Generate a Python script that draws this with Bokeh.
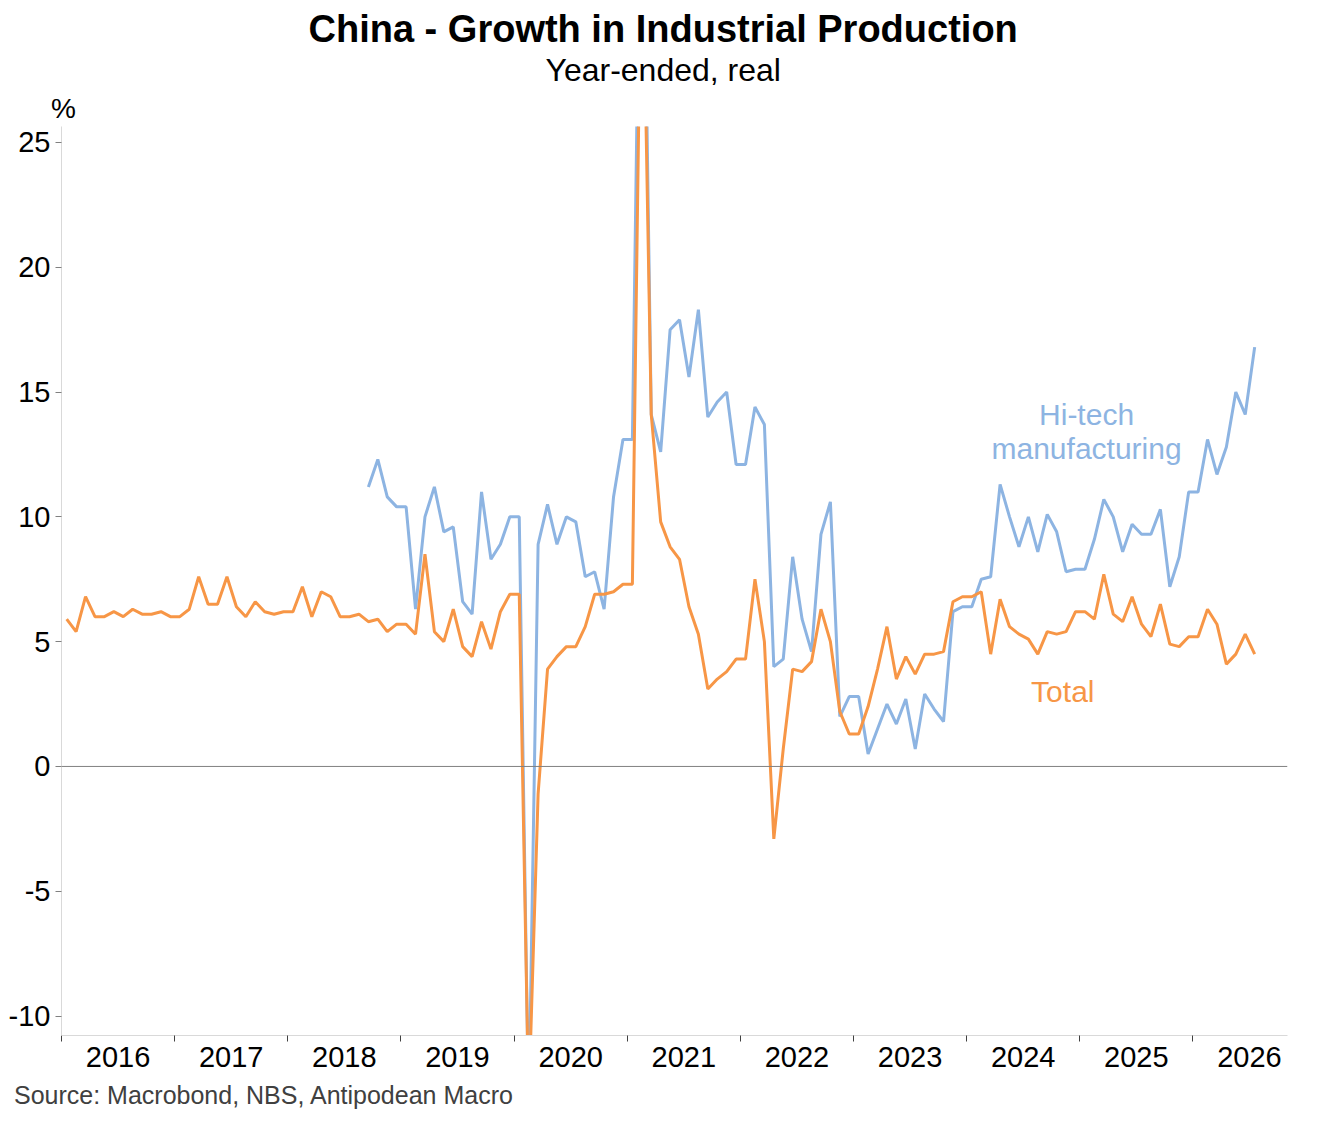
from bokeh.plotting import figure
from bokeh.models import Range1d, FixedTicker, Span, Label, Title
from bokeh.embed import file_html
from bokeh.resources import INLINE

# ---- data (monthly, year-ended % change), first month Jan 2016 ----
start_year = 2016
total = [
    5.9, 5.4, 6.8, 6.0, 6.0, 6.2, 6.0, 6.3, 6.1, 6.1, 6.2, 6.0,   # 2016
    6.0, 6.3, 7.6, 6.5, 6.5, 7.6, 6.4, 6.0, 6.6, 6.2, 6.1, 6.2,   # 2017
    6.2, 7.2, 6.0, 7.0, 6.8, 6.0, 6.0, 6.1, 5.8, 5.9, 5.4, 5.7,   # 2018
    5.7, 5.3, 8.5, 5.4, 5.0, 6.3, 4.8, 4.4, 5.8, 4.7, 6.2, 6.9,   # 2019
    6.9, -13.5, -1.1, 3.9, 4.4, 4.8, 4.8, 5.6, 6.9, 6.9, 7.0, 7.3,  # 2020
    7.3, 35.1, 14.1, 9.8, 8.8, 8.3, 6.4, 5.3, 3.1, 3.5, 3.8, 4.3,  # 2021
    4.3, 7.5, 5.0, -2.9, 0.7, 3.9, 3.8, 4.2, 6.3, 5.0, 2.2, 1.3,   # 2022
    1.3, 2.4, 3.9, 5.6, 3.5, 4.4, 3.7, 4.5, 4.5, 4.6, 6.6, 6.8,   # 2023
    6.8, 7.0, 4.5, 6.7, 5.6, 5.3, 5.1, 4.5, 5.4, 5.3, 5.4, 6.2,   # 2024
    6.2, 5.9, 7.7, 6.1, 5.8, 6.8, 5.7, 5.2, 6.5, 4.9, 4.8, 5.2,   # 2025
    5.2, 6.3, 5.7, 4.1, 4.5, 5.3, 4.5,                           # 2026
]
hitech_start_month = 32  # Sep 2018
hitech = [
    11.2, 12.3, 10.8, 10.4,                                        # 2018
    10.4, 6.3, 10.0, 11.2, 9.4, 9.6, 6.6, 6.1, 11.0, 8.3, 8.9, 10.0,  # 2019
    10.0, -14.0, 8.9, 10.5, 8.9, 10.0, 9.8, 7.6, 7.8, 6.3, 10.8, 13.1,  # 2020
    13.1, 39.9, 14.1, 12.6, 17.5, 17.9, 15.6, 18.3, 14.0, 14.6, 15.0, 12.1,  # 2021
    12.1, 14.4, 13.7, 4.0, 4.3, 8.4, 5.9, 4.6, 9.3, 10.6, 2.0, 2.8,   # 2022
    2.8, 0.5, 1.5, 2.5, 1.7, 2.7, 0.7, 2.9, 2.3, 1.8, 6.2, 6.4,       # 2023
    6.4, 7.5, 7.6, 11.3, 10.0, 8.8, 10.0, 8.6, 10.1, 9.4, 7.8, 7.9,   # 2024
    7.9, 9.1, 10.7, 10.0, 8.6, 9.7, 9.3, 9.3, 10.3, 7.2, 8.4, 11.0,   # 2025
    11.0, 13.1, 11.7, 12.8, 15.0, 14.1, 16.8,                        # 2026
]
years = list(range(2016, 2027))
year_labels = [str(y) for y in years]
y_ticks = [-10, -5, 0, 5, 10, 15, 20, 25]
y_labels = ["-10", "-5", "0", "5", "10", "15", "20", "25"]

x_total = [start_year + (i + 0.55) / 12 for i in range(len(total))]
x_hitech = [start_year + (hitech_start_month + i + 0.55) / 12 for i in range(len(hitech))]

ORANGE = "#F79646"
BLUE = "#8DB4E2"
FONT = "Liberation Sans"

p = figure(width=1310, height=1120,
           x_range=Range1d(2016, 2026.836), y_range=Range1d(-10.78, 25.64),
           output_backend="svg", toolbar_location=None,
           min_border_left=61, min_border_right=23, min_border_top=126, min_border_bottom=85)
p.outline_line_color = None
p.xgrid.visible = False
p.ygrid.visible = False
p.background_fill_color = "white"
p.border_fill_color = "white"

# header / footer texts as title panels (closest to the frame first)
p.add_layout(Title(text="%", align="left", offset=-10.5, standoff=6,
                   text_font=FONT, text_font_size="28px", text_font_style="normal",
                   text_color="black"), "above")
p.add_layout(Title(text="Year-ended, real", align="left", offset=484, standoff=0,
                   text_font=FONT, text_font_size="32px", text_font_style="normal",
                   text_color="black"), "above")
p.add_layout(Title(text="China - Growth in Industrial Production", align="left", offset=247,
                   standoff=0, text_font=FONT, text_font_size="38px", text_font_style="bold",
                   text_color="black"), "above")

# zero line
p.add_layout(Span(location=0, dimension="width", line_color="#808080", line_width=1))

p.line(x_hitech, hitech, line_color=BLUE, line_width=3)
p.line(x_total, total, line_color=ORANGE, line_width=3)

# x axis: labels centred in each year, ticks at year boundaries
xa = p.xaxis[0]
xa.ticker = FixedTicker(ticks=[y + 0.5 for y in years], minor_ticks=years)
xa.major_label_overrides = {y + 0.5: lab for y, lab in zip(years, year_labels)}
xa.major_tick_line_color = None
xa.major_tick_out = 0
xa.major_tick_in = 0
xa.minor_tick_line_color = "#404040"
xa.minor_tick_out = 6
xa.minor_tick_in = 0
xa.axis_line_color = "#D9D9D9"
xa.major_label_text_font = FONT
xa.major_label_text_font_size = "29px"
xa.major_label_text_color = "black"
xa.major_label_standoff = 5

ya = p.yaxis[0]
ya.ticker = FixedTicker(ticks=y_ticks, minor_ticks=[])
ya.major_label_overrides = {t: lab for t, lab in zip(y_ticks, y_labels)}
ya.axis_line_color = "#D9D9D9"
ya.major_tick_line_color = "#808080"
ya.major_tick_out = 6
ya.major_tick_in = 0
ya.minor_tick_line_color = None
ya.major_label_text_font = FONT
ya.major_label_text_font_size = "29px"
ya.major_label_text_color = "black"
ya.major_label_standoff = 5

p.add_layout(Title(text="Source: Macrobond, NBS, Antipodean Macro", align="left", offset=-47.5,
                   standoff=18, text_font=FONT, text_font_size="25px", text_font_style="normal",
                   text_color="#404040"), "below")

# series labels
p.add_layout(Label(x=2025.06, y=14.10, text="Hi-tech", text_align="center",
                   text_baseline="alphabetic", text_font=FONT,
                   text_font_size="30px", text_color=BLUE))
p.add_layout(Label(x=2025.06, y=12.73, text="manufacturing", text_align="center",
                   text_baseline="alphabetic", text_font=FONT,
                   text_font_size="30px", text_color=BLUE))
p.add_layout(Label(x=2024.85, y=3.02, text="Total", text_align="center",
                   text_baseline="alphabetic", text_font=FONT,
                   text_font_size="30px", text_color=ORANGE))

open("out.html", "w").write(file_html(p, INLINE))
